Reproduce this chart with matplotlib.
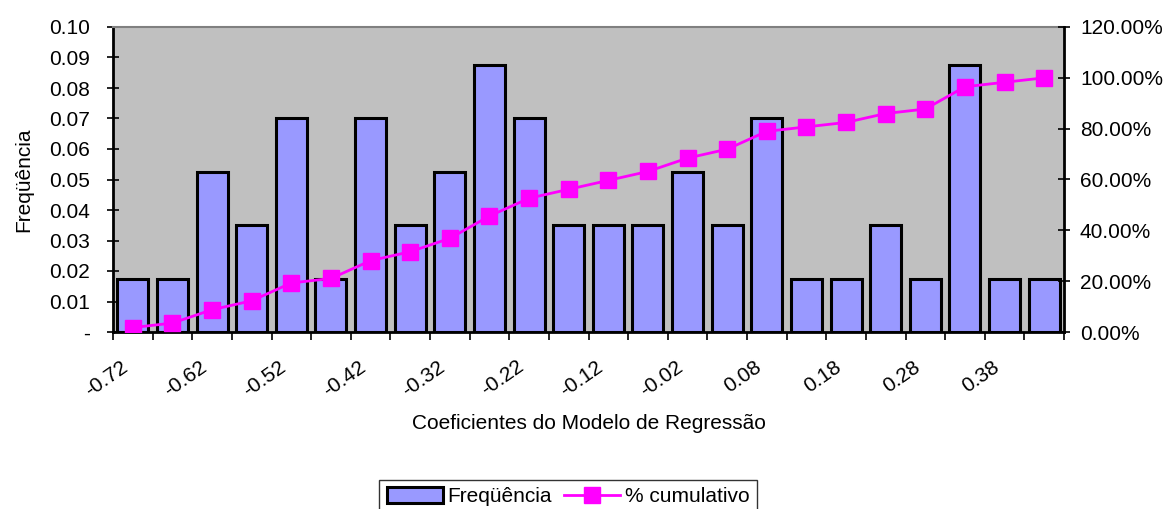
import numpy as np
import matplotlib.pyplot as plt
from matplotlib.ticker import FuncFormatter, MultipleLocator, FixedLocator

plt.rcParams['font.family'] = ['Liberation Sans', 'DejaVu Sans']

# bin labels (every second bin is labelled on the axis)
tick_labels = ["-0.72", "-0.62", "-0.52", "-0.42", "-0.32", "-0.22",
               "-0.12", "-0.02", "0.08", "0.18", "0.28", "0.38"]

freq = [0.0175, 0.0175, 0.0526, 0.0351, 0.0702, 0.0175, 0.0702, 0.0351,
        0.0526, 0.0877, 0.0702, 0.0351, 0.0351, 0.0351, 0.0526, 0.0351,
        0.0702, 0.0175, 0.0175, 0.0351, 0.0175, 0.0877, 0.0175, 0.0175]

cumul = [0.0175, 0.0351, 0.0877, 0.1228, 0.1930, 0.2105, 0.2807, 0.3158,
         0.3684, 0.4561, 0.5263, 0.5614, 0.5965, 0.6316, 0.6842, 0.7193,
         0.7895, 0.8070, 0.8246, 0.8596, 0.8772, 0.9649, 0.9825, 1.0000]

x = np.arange(len(freq))
fs = 15

fig = plt.figure(figsize=(11.66, 5.09), dpi=100)
ax = fig.add_axes([113/1166, 1 - 332/509, (1064 - 113)/1166, (332 - 27)/509])
ax.set_facecolor('#C0C0C0')

bars = ax.bar(x, freq, width=0.78, color='#9999FF', edgecolor='black',
              linewidth=2.2, label='Freqüência', zorder=2)

ax.set_xlim(-0.5, len(freq) - 0.5)
ax.set_ylim(0, 0.10)
ax.yaxis.set_major_locator(MultipleLocator(0.01))
ax.yaxis.set_major_formatter(FuncFormatter(lambda v, p: '-' if abs(v) < 1e-9 else f'{v:.2f}'))
ax.tick_params(axis='y', direction='inout', length=9, width=1.2, labelsize=fs, pad=12)

# category boundaries as tick marks, labels placed at every second bin
ax.xaxis.set_major_locator(FixedLocator(np.arange(-0.5, len(freq), 1.0)))
ax.set_xticklabels([])
ax.tick_params(axis='x', direction='out', length=6, width=1.2)
for i, lab in enumerate(tick_labels):
    ax.annotate(lab, xy=(2 * i, 0), xycoords='data', xytext=(-9, -18),
                textcoords='offset points', rotation=35, ha='right', va='top',
                rotation_mode='anchor', fontsize=fs)

for s in ['left', 'bottom']:
    ax.spines[s].set_linewidth(2)
    ax.spines[s].set_color('black')
ax.spines['top'].set_color('#808080')
ax.spines['top'].set_linewidth(1.5)
ax.spines['right'].set_visible(False)

ax.set_ylabel('Freqüência', fontsize=fs)
ax.yaxis.set_label_coords((33 - 113) / 951, 0.5)
ax.set_xlabel('Coeficientes do Modelo de Regressão', fontsize=fs)
ax.xaxis.set_label_coords(0.5, (332 - 414) / 305)

ax2 = ax.twinx()
line, = ax2.plot(x, cumul, color='#FF00FF', linewidth=2, marker='s',
                 markersize=11, label='% cumulativo', zorder=3)
ax2.set_ylim(0, 1.2)
ax2.yaxis.set_major_locator(MultipleLocator(0.2))
ax2.yaxis.set_major_formatter(FuncFormatter(lambda v, p: f'{v * 100:.2f}%'))
ax2.tick_params(axis='y', direction='inout', length=9, width=1.2, labelsize=fs, pad=7)
ax2.spines['right'].set_linewidth(2)
ax2.spines['right'].set_color('black')
for s in ['left', 'bottom', 'top']:
    ax2.spines[s].set_visible(False)

leg = fig.legend(handles=[bars, line], loc='upper center',
                 bbox_to_anchor=(568/1166, 1 - 480/509), ncol=2,
                 fontsize=fs, frameon=True, fancybox=False,
                 edgecolor='black', handlelength=2.7, handleheight=0.8,
                 columnspacing=0.6, handletextpad=0.2, borderpad=0.35,
                 borderaxespad=0)
leg.get_frame().set_linewidth(1.0)

fig.savefig('out.png', dpi=100, facecolor='white')
